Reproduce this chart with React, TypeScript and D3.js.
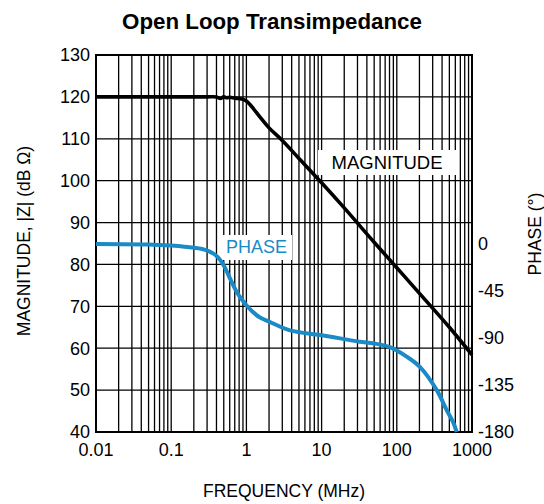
import React from "react";
import * as d3 from "d3";

const magFreq = [0.01, 0.1, 0.3, 0.4, 0.45, 0.5, 0.55, 0.6, 0.7, 0.8, 0.9, 1.0, 1.1, 1.25, 1.5, 2, 3, 5, 10, 20, 50, 100, 200, 500, 1000];
const magDb = [120, 120, 120, 120, 119.6, 120, 119.8, 119.9, 119.7, 119.6, 119.4, 119.0, 118.3, 117.1, 115.3, 112.6, 109.6, 105.3, 99.5, 93.5, 85.3, 79.2, 73.1, 65.0, 58.4];

const phaseFreq = [0.01, 0.05, 0.1, 0.15, 0.25, 0.32, 0.38, 0.44, 0.5, 0.56, 0.62, 0.74, 0.86, 1.0, 1.2, 1.5, 2.06, 3.8, 9.6, 17.6, 32, 50, 81, 135, 204, 340, 460, 565, 625];
const phaseDeg = [-0.5, -1, -2, -3, -5, -7.5, -10.5, -15, -21, -28, -35, -46, -53, -59, -65, -70.5, -75, -83, -87.4, -90.6, -93.8, -95.5, -99, -108, -118, -140, -159, -171, -180];

const xTicks = [0.01, 0.1, 1, 10, 100, 1000];
const xTickLabels = ["0.01", "0.1", "1", "10", "100", "1000"];
const magTicks = [40, 50, 60, 70, 80, 90, 100, 110, 120, 130];
const phaseTicks = [0, -45, -90, -135, -180];

const FONT = "'Liberation Sans', Arial, Helvetica, sans-serif";
const BLUE = "#1a8bc6";

export default function App() {
  const W = 544, H = 504;
  const L = 96, R = 472, T = 55, B = 432;
  const x = d3.scaleLog().domain([0.01, 1000]).range([L, R]);
  const y = d3.scaleLinear().domain([40, 130]).range([B, T]);
  const yP = d3.scaleLinear().domain([-180, 0]).range([B, y(85)]);

  const gridX: number[] = [];
  for (let e = -2; e < 3; e++) {
    for (let m = 1; m <= 9; m++) gridX.push(m * Math.pow(10, e));
  }
  gridX.push(1000);

  const magLine = d3.line<number>().x((d, i) => x(magFreq[i])).y((d) => y(d)).curve(d3.curveCatmullRom.alpha(0.5));
  const phLine = d3.line<number>().x((d, i) => x(phaseFreq[i])).y((d) => yP(d)).curve(d3.curveCatmullRom.alpha(0.5));

  return (
    <svg width={W} height={H} style={{ position: "absolute", left: 0, top: 0, background: "#fff" }} fontFamily={FONT}>
      <rect x={0} y={0} width={W} height={H} fill="#fff" />
      <text x={272} y={29} textAnchor="middle" fontSize={22.3} fontWeight="bold">Open Loop Transimpedance</text>
      {gridX.map((f, i) => (
        <line key={"gx" + i} x1={x(f)} x2={x(f)} y1={T} y2={B} stroke="#000" strokeWidth={1.3} />
      ))}
      {magTicks.map((v) => (
        <line key={"gy" + v} x1={L} x2={R} y1={y(v)} y2={y(v)} stroke="#000" strokeWidth={1.3} />
      ))}
      <rect x={L} y={T} width={R - L} height={B - T} fill="none" stroke="#000" strokeWidth={2} />
      <rect x={318} y={150} width={139} height={25} fill="#fff" />
      <rect x={221} y={235} width={71} height={25} fill="#fff" />
      <text x={387} y={168.5} textAnchor="middle" fontSize={18.5} fill="#000">MAGNITUDE</text>
      <text x={256.5} y={252.5} textAnchor="middle" fontSize={18} fill={BLUE}>PHASE</text>
      <path d={magLine(magDb) || ""} fill="none" stroke="#000" strokeWidth={3.6} />
      <path d={phLine(phaseDeg) || ""} fill="none" stroke={BLUE} strokeWidth={4} />
      {magTicks.map((v) => (
        <text key={"ml" + v} x={90} y={y(v) + 6.3} textAnchor="end" fontSize={18}>{v}</text>
      ))}
      {phaseTicks.map((v) => (
        <text key={"pl" + v} x={478} y={yP(v) + 6.3} textAnchor="start" fontSize={18}>{v}</text>
      ))}
      {xTicks.map((v, i) => (
        <text key={"xl" + v} x={x(v)} y={456} textAnchor="middle" fontSize={18}>{xTickLabels[i]}</text>
      ))}
      <text x={284} y={497} textAnchor="middle" fontSize={17.5}>FREQUENCY (MHz)</text>
      <text transform="translate(30,241) rotate(-90)" textAnchor="middle" fontSize={17.5}>MAGNITUDE, |Z| (dB Ω)</text>
      <text transform="translate(541,234) rotate(-90)" textAnchor="middle" fontSize={17.5}>PHASE (°)</text>
    </svg>
  );
}
